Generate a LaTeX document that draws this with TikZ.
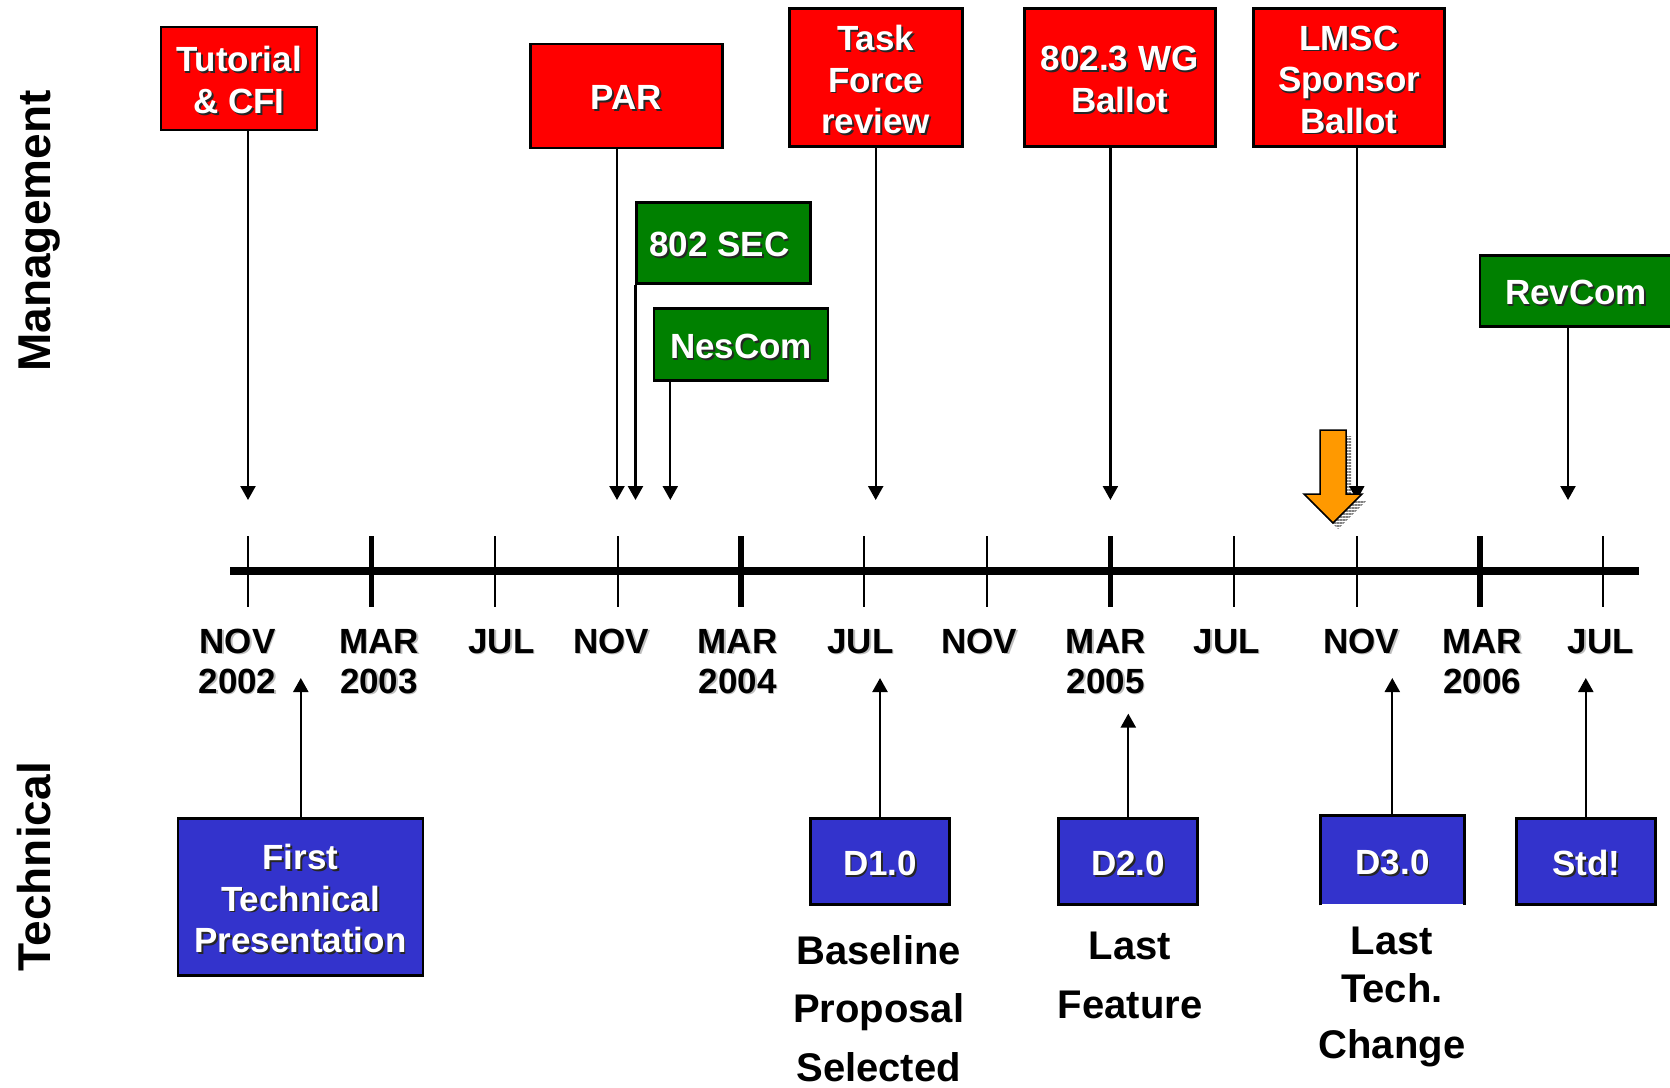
\documentclass[tikz,border=0pt]{standalone}
\usepackage{fontspec}
\setmainfont{Liberation Sans}
\usetikzlibrary{arrows.meta,patterns.meta}

\definecolor{mgmtred}{HTML}{FF0000}
\definecolor{okgreen}{HTML}{008000}
\definecolor{draftblue}{HTML}{3333CC}
\definecolor{markorange}{HTML}{FF9900}

% white text with a dark drop shadow, light shadow for the dates
\newcommand{\shd}[1]{\raisebox{-2.7pt}[\height][\depth]{\rlap{\kern1.8pt\raisebox{-1.8pt}{\textcolor{black!85}{#1}}}#1}}
\newcommand{\lshd}[1]{\rlap{\kern1.5pt\raisebox{-1.5pt}{\textcolor{black!25}{#1}}}#1}

\tikzset{
  event/.style={draw=black, line width=2.8pt, text=white, align=center, inner sep=0pt,
    font=\fontsize{35}{41.5}\selectfont\bfseries},
  mgmt/.style={event, fill=mgmtred},
  approval/.style={event, fill=okgreen},
  draft/.style={event, fill=draftblue},
  month/.style={anchor=base, inner sep=0pt, font=\fontsize{35}{41}\selectfont\bfseries},
  note/.style={anchor=north, align=center, inner sep=0pt, font=\fontsize{40}{58.7}\selectfont\bfseries},
  side/.style={rotate=90, inner sep=0pt, font=\fontsize{46}{50}\selectfont\bfseries},
  link/.style={line width=2.3pt, -{Triangle[length=14pt,width=15pt]}},
  tick/.style={line width=2pt},
  major/.style={line width=5.5pt},
}

\begin{document}
\begin{tikzpicture}[x=1pt, y=-1pt]
    \fill[white] (0,0) rectangle (1670,1087);
    \useasboundingbox (0,0) rectangle (1670,1087);

    % side labels
    \node[side] (mg) at (39.5,231) {Management};
    \node[side] (tc) at (34,866.6) {Technical};

    % management nodes
    \node[mgmt, minimum width=156pt, minimum height=103pt] at (239,78.4) (tut) {\shd{Tutorial}\\\shd{\& CFI}};
    \node[mgmt, minimum width=192pt, minimum height=104pt] at (626.5,96) (par) {\shd{PAR}};
    \node[mgmt, minimum width=173pt, minimum height=138pt] at (875.7,77.7) (tf) {\shd{Task}\\\shd{Force}\\\shd{review}};
    \node[mgmt, minimum width=191pt, minimum height=138pt] at (1119.6,77.7) (wg) {\shd{802.3 WG}\\\shd{Ballot}};
    \node[mgmt, minimum width=191pt, minimum height=138pt] at (1349,77.7) (lmsc) {\shd{LMSC}\\\shd{Sponsor}\\\shd{Ballot}};
    \node[approval, minimum width=174pt, minimum height=81pt] at (723.8,243) (sec) {\shd{802 SEC}\kern9pt};
    \node[approval, minimum width=174pt, minimum height=72pt] at (741,344.5) (nes) {\shd{NesCom}};
    \node[approval, minimum width=192pt, minimum height=71pt] at (1576,291) (rev) {\shd{RevCom}};

    % technical nodes
    \node[draft, minimum width=245pt, minimum height=157pt] at (300.5,896.7) (first) {\shd{First}\\\shd{Technical}\\\shd{Presentation}};
    \node[draft, minimum width=139pt, minimum height=86pt] at (880,861.6) (d1) {\shd{D1.0}};
    \node[draft, minimum width=139pt, minimum height=86pt] at (1128.2,861.6) (d2) {\shd{D2.0}};
    \node[draft, draw=none, minimum width=141.6pt, minimum height=87pt] at (1392.5,860.5) (d3) {\shd{D3.0}};
    \draw[line width=2.8pt] (d3.south west) -- (d3.north west) -- (d3.north east) -- (d3.south east);
    \node[draft, minimum width=139pt, minimum height=86pt] at (1586.2,861.6) (std) {\shd{Std!}};

    % remarks under the drafts
    \node[note] at (878.6,935) (n1) {Baseline\\Proposal\\Selected};
    \node[note] at (1130,931.7) (n2) {Last\\Feature};
    \node[note, font=\fontsize{40}{48}\selectfont\bfseries] at (1392,926.7) (n3) {Last\\Tech.\\[8.4pt]Change};

    % time line
    \coordinate (axstart) at (230,571);
    \coordinate (axend) at (1639,571);
    \draw[line width=8.5pt] (axstart) -- (axend);
    \draw[tick]  (248.2,536) -- (248.2,607);
    \draw[major] (371.4,536) -- (371.4,607);
    \draw[tick]  (494.6,536) -- (494.6,607);
    \draw[tick]  (617.8,536) -- (617.8,607);
    \draw[major] (741,536) -- (741,607);
    \draw[tick]  (864.2,536) -- (864.2,607);
    \draw[tick]  (987.4,536) -- (987.4,607);
    \draw[major] (1110.6,536) -- (1110.6,607);
    \draw[tick]  (1233.8,536) -- (1233.8,607);
    \draw[tick]  (1357,536) -- (1357,607);
    \draw[major] (1480.2,536) -- (1480.2,607);
    \draw[tick]  (1603.4,536) -- (1603.4,607);

    % dates
    \node[month] at (237.5,653) (m1) {\lshd{NOV}};
    \node[month] at (379,653) (m2) {\lshd{MAR}};
    \node[month] at (501.5,653) (m3) {\lshd{JUL}};
    \node[month] at (611,653) (m4) {\lshd{NOV}};
    \node[month] at (737.6,653) (m5) {\lshd{MAR}};
    \node[month] at (860.5,653) (m6) {\lshd{JUL}};
    \node[month] at (979,653) (m7) {\lshd{NOV}};
    \node[month] at (1105.7,653) (m8) {\lshd{MAR}};
    \node[month] at (1226.6,653) (m9) {\lshd{JUL}};
    \node[month] at (1361,653) (m10) {\lshd{NOV}};
    \node[month] at (1482,653) (m11) {\lshd{MAR}};
    \node[month] at (1600.7,653) (m12) {\lshd{JUL}};
    \node[month] at (237.5,693) (y2) {\lshd{2002}};
    \node[month] at (379,693) (y3) {\lshd{2003}};
    \node[month] at (737.6,693) (y4) {\lshd{2004}};
    \node[month] at (1105.7,693) (y5) {\lshd{2005}};
    \node[month] at (1482,693) (y6) {\lshd{2006}};

    % arrow ends
    \coordinate (tutend) at (248,500);
    \coordinate (parend) at (617,500);
    \coordinate (secend) at (635.5,500);
    \coordinate (nesend) at (670.3,500);
    \coordinate (tfend) at (875.7,500);
    \coordinate (wgend) at (1110.4,500);
    \coordinate (lmscend) at (1356.8,500);
    \coordinate (revend) at (1568,500);
    \coordinate (firstend) at (300.8,678);
    \coordinate (d1end) at (880,678);
    \coordinate (d2end) at (1128.3,713.6);
    \coordinate (d3end) at (1392.3,678);
    \coordinate (stdend) at (1585.8,678);

    % orange marker shadow
    \fill[pattern={Lines[angle=0,distance=3pt,line width=1.5pt]}, pattern color=gray]
      (1325,436) -- (1351,436) -- (1351,500) -- (1367,500) -- (1338,529) -- (1309,500) -- (1325,500) -- cycle;

    % management connections
    \draw[link] (tut.south -| tutend) -- (tutend);
    \draw[link] (par.south -| parend) -- (parend);
    \draw[link] (sec.south -| secend) -- (secend);
    \draw[link] (nes.south -| nesend) -- (nesend);
    \draw[link] (tf.south -| tfend) -- (tfend);
    \draw[link] (wg.south -| wgend) -- (wgend);
    \draw[link] (lmsc.south -| lmscend) -- (lmscend);
    \draw[link] (rev.south -| revend) -- (revend);
    % technical connections
    \draw[link] (first.north -| firstend) -- (firstend);
    \draw[link] (d1.north -| d1end) -- (d1end);
    \draw[link] (d2.north -| d2end) -- (d2end);
    \draw[link] (d3.north -| d3end) -- (d3end);
    \draw[link] (std.north -| stdend) -- (stdend);

    % orange marker
    \filldraw[fill=markorange, draw=black, line width=1.5pt]
      (1320,430) -- (1346,430) -- (1346,494) -- (1362,494) -- (1333,523) -- (1304,494) -- (1320,494) -- cycle;
\end{tikzpicture}
\end{document}
